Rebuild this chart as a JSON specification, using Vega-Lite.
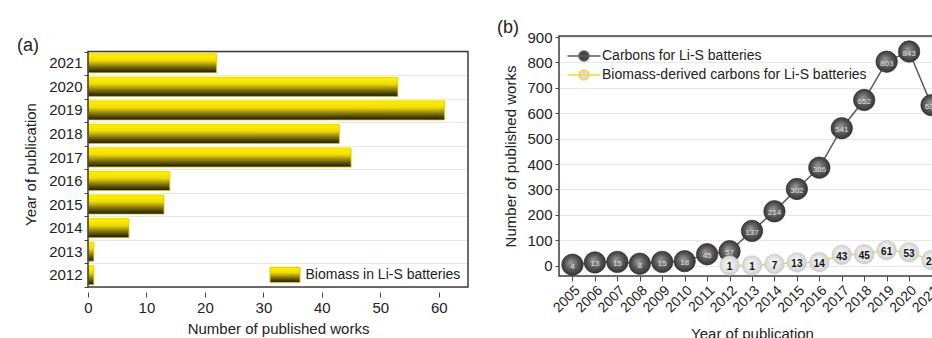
{
  "$schema": "https://vega.github.io/schema/vega-lite/v6.json",
  "background": "white",
  "padding": {"left": 17, "top": 18, "right": 0, "bottom": 0},
  "config": {
    "font": "Liberation Sans",
    "view": {"stroke": "#3c3c3c", "strokeWidth": 1.5},
    "axis": {"labelFont": "Liberation Sans", "titleFont": "Liberation Sans", "labelFontSize": 15, "titleFontSize": 15, "titleFontWeight": "normal", "labelColor": "#222222", "titleColor": "#222222", "tickColor": "#444444", "domain": false, "tickSize": 4},
    "legend": {"labelFont": "Liberation Sans", "labelFontSize": 14, "labelColor": "#222222"},
    "title": {"font": "Liberation Sans", "fontSize": 18, "fontWeight": "normal", "color": "#222222"}
  },
  "spacing": 27,
  "resolve": {"scale": {"color": "independent", "stroke": "independent"}, "legend": {"color": "independent", "stroke": "independent"}},
  "hconcat": [
    {
      "width": 380,
      "height": 256,
      "view": {"stroke": null},
      "title": {"text": "(a)", "anchor": "start", "frame": "group", "dx": -71, "offset": -20, "baseline": "alphabetic", "dy": 17},
      "data": {"values": [
        {"year": 2012, "count": 1},
        {"year": 2013, "count": 1},
        {"year": 2014, "count": 7},
        {"year": 2015, "count": 13},
        {"year": 2016, "count": 14},
        {"year": 2017, "count": 45},
        {"year": 2018, "count": 43},
        {"year": 2019, "count": 61},
        {"year": 2020, "count": 53},
        {"year": 2021, "count": 22}
      ]},
      "layer": [
        {
          "mark": {"type": "bar", "orient": "horizontal", "size": 19, "strokeWidth": 0.8, "fill": {"gradient": "linear", "x1": 0, "y1": 0, "x2": 0, "y2": 1, "stops": [{"offset": 0, "color": "#fff200"}, {"offset": 0.35, "color": "#f0dc00"}, {"offset": 0.7, "color": "#7a6c00"}, {"offset": 1, "color": "#181400"}]}},
          "encoding": {
            "y": {"field": "year", "type": "quantitative", "scale": {"domain": [2011.5, 2021.949], "nice": false, "zero": false},
              "axis": {"title": "Year of publication", "values": [2011.5, 2012.5, 2013.5, 2014.5, 2015.5, 2016.5, 2017.5, 2018.5, 2019.5, 2020.5, 2021.5], "labelExpr": "datum.value > 2021 ? '' : toString(datum.value + 0.5)", "labelOffset": -12.25, "labelOverlap": false, "labelFlush": false, "labelBound": false, "grid": true, "gridColor": "#f3e4e4", "labelPadding": 2, "titlePadding": 10, "tickSize": 4}},
            "x": {"field": "count", "type": "quantitative", "scale": {"domain": [0, 65], "nice": false},
              "axis": {"values": [0, 10, 20, 30, 40, 50, 60], "title": "Number of published works", "grid": false, "tickSize": 5, "labelPadding": 3, "titlePadding": 6, "labelFlush": false}},
            "stroke": {"datum": "Biomass in Li-S batteries", "type": "nominal", "scale": {"range": ["#dccb00"]},
              "legend": {"title": null, "orient": "bottom-right", "offset": 7, "padding": 0, "symbolType": "M-2,-1H2V1H-2Z", "symbolSize": 225, "symbolStrokeWidth": 1, "labelOffset": 12.5, "labelFontSize": 14,
                "encode": {"symbols": {"update": {"fill": {"value": {"gradient": "linear", "x1": 0, "y1": 0, "x2": 0, "y2": 1, "stops": [{"offset": 0, "color": "#fff200"}, {"offset": 0.35, "color": "#f0dc00"}, {"offset": 0.7, "color": "#7a6c00"}, {"offset": 1, "color": "#181400"}]}}}}}}}
          }
        },
        {
          "data": {"values": [{}]},
          "mark": {"type": "rect", "fillOpacity": 0, "stroke": "#3c3c3c", "strokeWidth": 1.5},
          "encoding": {
            "x": {"datum": 0, "type": "quantitative",
              "axis": {"values": [0, 10, 20, 30, 40, 50, 60], "title": "Number of published works", "grid": false, "tickSize": 5, "labelPadding": 3, "titlePadding": 6, "labelFlush": false}},
            "x2": {"datum": 65},
            "y": {"datum": 2011.5, "type": "quantitative",
              "axis": {"title": "Year of publication", "values": [2011.5, 2012.5, 2013.5, 2014.5, 2015.5, 2016.5, 2017.5, 2018.5, 2019.5, 2020.5, 2021.5], "labelExpr": "datum.value > 2021 ? '' : toString(datum.value + 0.5)", "labelOffset": -12.25, "labelOverlap": false, "labelFlush": false, "labelBound": false, "grid": true, "gridColor": "#f3e4e4", "labelPadding": 2, "titlePadding": 10, "tickSize": 4}},
            "y2": {"datum": 2021.5}
          }
        }
      ]
    },
    {
      "width": 386,
      "height": 240,
      "title": {"text": "(b)", "anchor": "start", "frame": "group", "dx": -62, "offset": -20, "baseline": "alphabetic", "dy": 1},
      "data": {"values": [
        {"year": 2005, "value": 4, "series": "Carbons for Li-S batteries"},
        {"year": 2006, "value": 13, "series": "Carbons for Li-S batteries"},
        {"year": 2007, "value": 15, "series": "Carbons for Li-S batteries"},
        {"year": 2008, "value": 8, "series": "Carbons for Li-S batteries"},
        {"year": 2009, "value": 15, "series": "Carbons for Li-S batteries"},
        {"year": 2010, "value": 18, "series": "Carbons for Li-S batteries"},
        {"year": 2011, "value": 45, "series": "Carbons for Li-S batteries"},
        {"year": 2012, "value": 57, "series": "Carbons for Li-S batteries"},
        {"year": 2013, "value": 137, "series": "Carbons for Li-S batteries"},
        {"year": 2014, "value": 214, "series": "Carbons for Li-S batteries"},
        {"year": 2015, "value": 302, "series": "Carbons for Li-S batteries"},
        {"year": 2016, "value": 386, "series": "Carbons for Li-S batteries"},
        {"year": 2017, "value": 541, "series": "Carbons for Li-S batteries"},
        {"year": 2018, "value": 652, "series": "Carbons for Li-S batteries"},
        {"year": 2019, "value": 803, "series": "Carbons for Li-S batteries"},
        {"year": 2020, "value": 843, "series": "Carbons for Li-S batteries"},
        {"year": 2021, "value": 632, "series": "Carbons for Li-S batteries"},
        {"year": 2012, "value": 1, "series": "Biomass-derived carbons for Li-S batteries"},
        {"year": 2013, "value": 1, "series": "Biomass-derived carbons for Li-S batteries"},
        {"year": 2014, "value": 7, "series": "Biomass-derived carbons for Li-S batteries"},
        {"year": 2015, "value": 13, "series": "Biomass-derived carbons for Li-S batteries"},
        {"year": 2016, "value": 14, "series": "Biomass-derived carbons for Li-S batteries"},
        {"year": 2017, "value": 43, "series": "Biomass-derived carbons for Li-S batteries"},
        {"year": 2018, "value": 45, "series": "Biomass-derived carbons for Li-S batteries"},
        {"year": 2019, "value": 61, "series": "Biomass-derived carbons for Li-S batteries"},
        {"year": 2020, "value": 53, "series": "Biomass-derived carbons for Li-S batteries"},
        {"year": 2021, "value": 22, "series": "Biomass-derived carbons for Li-S batteries"}
      ]},
      "encoding": {
        "x": {"field": "year", "type": "quantitative", "scale": {"domain": [2004.4, 2021.6], "nice": false, "zero": false},
          "axis": {"values": [2005, 2006, 2007, 2008, 2009, 2010, 2011, 2012, 2013, 2014, 2015, 2016, 2017, 2018, 2019, 2020, 2021], "format": "d", "labelAngle": -45, "labelFontSize": 14, "labelOverlap": false, "labelFlush": false, "labelBound": false, "title": "Year of publication", "grid": false, "tickSize": 5, "labelPadding": 2, "titlePadding": 12}},
        "y": {"field": "value", "type": "quantitative", "scale": {"domain": [-40.5, 904], "nice": false, "zero": false},
          "axis": {"values": [0, 100, 200, 300, 400, 500, 600, 700, 800, 900], "title": "Number of published works", "grid": true, "gridColor": "#f3e4e4", "tickSize": 4, "labelPadding": 3, "titlePadding": 8, "labelOverlap": false}}
      },
      "layer": [
        {
          "mark": {"type": "line", "strokeWidth": 1.5},
          "encoding": {
            "color": {"field": "series", "type": "nominal",
              "scale": {"domain": ["Carbons for Li-S batteries", "Biomass-derived carbons for Li-S batteries"], "range": ["#5a5a5a", "#f2d43c"]},
              "legend": {"title": null, "orient": "top-left", "offset": 11, "padding": 0, "labelLimit": 400, "symbolType": "M-1.4,0H2.6M0,0A0.6,0.6,0,1,1,1.2,0A0.6,0.6,0,1,1,0,0Z", "symbolSize": 272, "symbolStrokeWidth": 1.5, "labelOffset": 14, "labelFontSize": 14, "rowPadding": 2,
                "encode": {"symbols": {"update": {"fill": {"signal": "datum.value === 'Carbons for Li-S batteries' ? '#444444' : '#dddddd'"}}}}}}
          }
        },
        {
          "transform": [{"filter": "datum.series === 'Carbons for Li-S batteries'"}],
          "mark": {"type": "circle", "size": 460, "opacity": 1, "stroke": "#2a2a2a", "strokeWidth": 0.6,
            "fill": {"gradient": "radial", "x1": 0.42, "y1": 0.4, "r1": 0, "x2": 0.5, "y2": 0.5, "r2": 0.55, "stops": [{"offset": 0, "color": "#9a9a9a"}, {"offset": 0.55, "color": "#5a5a5a"}, {"offset": 1, "color": "#2e2e2e"}]}}
        },
        {
          "transform": [{"filter": "datum.series === 'Carbons for Li-S batteries'"}],
          "mark": {"type": "text", "fontSize": 8, "color": "#e6e6e6", "dy": 2},
          "encoding": {"text": {"field": "value", "type": "quantitative"}}
        },
        {
          "transform": [{"filter": "datum.series === 'Biomass-derived carbons for Li-S batteries'"}],
          "mark": {"type": "circle", "size": 380, "opacity": 1, "stroke": "#c4c4c4", "strokeWidth": 0.6,
            "fill": {"gradient": "radial", "x1": 0.42, "y1": 0.4, "r1": 0, "x2": 0.5, "y2": 0.5, "r2": 0.55, "stops": [{"offset": 0, "color": "#f7f7f7"}, {"offset": 0.6, "color": "#e2e2e2"}, {"offset": 1, "color": "#c9c9c9"}]}}
        },
        {
          "transform": [{"filter": "datum.series === 'Biomass-derived carbons for Li-S batteries'"}],
          "mark": {"type": "text", "fontSize": 10, "fontWeight": "bold", "color": "#111111", "dy": 2},
          "encoding": {"text": {"field": "value", "type": "quantitative"}}
        }
      ]
    }
  ]
}
